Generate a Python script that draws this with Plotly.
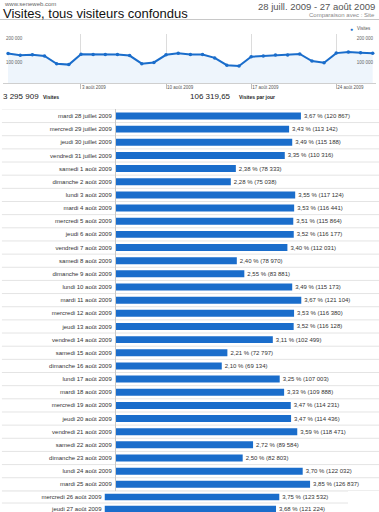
import plotly.graph_objects as go
import pandas as pd

# ---------------- data ----------------
day_labels = [
    "mardi 28 juillet 2009", "mercredi 29 juillet 2009", "jeudi 30 juillet 2009",
    "vendredi 31 juillet 2009", "samedi 1 août 2009", "dimanche 2 août 2009",
    "lundi 3 août 2009", "mardi 4 août 2009", "mercredi 5 août 2009",
    "jeudi 6 août 2009", "vendredi 7 août 2009", "samedi 8 août 2009",
    "dimanche 9 août 2009", "lundi 10 août 2009", "mardi 11 août 2009",
    "mercredi 12 août 2009", "jeudi 13 août 2009", "vendredi 14 août 2009",
    "samedi 15 août 2009", "dimanche 16 août 2009", "lundi 17 août 2009",
    "mardi 18 août 2009", "mercredi 19 août 2009", "jeudi 20 août 2009",
    "vendredi 21 août 2009", "samedi 22 août 2009", "dimanche 23 août 2009",
    "lundi 24 août 2009", "mardi 25 août 2009", "mercredi 26 août 2009",
    "jeudi 27 août 2009",
]
visits = [
    120867, 113142, 115188, 110316, 78333, 75038,
    117124, 116441, 115864, 116177, 112031, 78970,
    83881, 115173, 121104, 116380, 116128, 102499,
    72797, 69134, 107003, 109888, 114231, 114436,
    118471, 89584, 82803, 122032, 126837, 123532,
    121224,
]
percents = [
    "3,67", "3,43", "3,49", "3,35", "2,38", "2,28",
    "3,55", "3,53", "3,51", "3,52", "3,40", "2,40",
    "2,55", "3,49", "3,67", "3,53", "3,52", "3,11",
    "2,21", "2,10", "3,25", "3,33", "3,47", "3,47",
    "3,59", "2,72", "2,50", "3,70", "3,85", "3,75",
    "3,68",
]
dates = pd.date_range("2009-07-28", "2009-08-27", freq="D")
line_tick_dates = ["2009-08-03", "2009-08-10", "2009-08-17", "2009-08-24"]
line_tick_text = ["3 août 2009", "10 août 2009", "17 août 2009", "24 août 2009"]
y_tick_vals = [100000, 200000]
y_tick_text = ["100 000", "200 000"]
total_visits = "3 295 909"
visits_per_day = "106 319,65"

# ---------------- helpers ----------------
W, H = 379, 512
BLUE = "#1a6dcb"
FONT = "Liberation Sans, Arial, sans-serif"


def px_x(p):
    return p / W


def px_y(p):
    return 1 - p / H


def fmt(v):
    return f"{v:,}".replace(",", " ")


bar_text = [f"{p} % ({fmt(v)})" for p, v in zip(percents, visits)]
n_main = 29  # rows in the first block, the last two are in a shifted block

fig = go.Figure()

# line chart
fig.add_trace(go.Scatter(
    x=dates, y=visits, mode="lines+markers",
    line=dict(color=BLUE, width=2), marker=dict(color=BLUE, size=3.5),
    fill="tozeroy", fillcolor="#eef5fc", name="Visites",
    showlegend=False, xaxis="x", yaxis="y", hoverinfo="skip"))
fig.add_trace(go.Scatter(
    x=dates, y=visits, mode="lines", line=dict(width=0, color="rgba(0,0,0,0)"),
    showlegend=False, xaxis="x", yaxis="y2", hoverinfo="skip"))

# bar chart, main block
fig.add_trace(go.Bar(
    y=day_labels[:n_main], x=visits[:n_main], orientation="h",
    marker=dict(color=BLUE, line=dict(width=0)),
    text=bar_text[:n_main], textposition="outside", cliponaxis=False,
    constraintext="none",
    textfont=dict(size=6, color="#333", family=FONT),
    xaxis="x3", yaxis="y3", showlegend=False, hoverinfo="skip"))
# bar chart, last two rows
fig.add_trace(go.Bar(
    y=day_labels[n_main:], x=visits[n_main:], orientation="h",
    marker=dict(color=BLUE, line=dict(width=0)),
    text=bar_text[n_main:], textposition="outside", cliponaxis=False,
    constraintext="none",
    textfont=dict(size=6, color="#333", family=FONT),
    xaxis="x4", yaxis="y4", showlegend=False, hoverinfo="skip"))

shapes = []
# header separator
shapes.append(dict(type="line", xref="paper", yref="paper", x0=0, x1=1,
                   y0=px_y(19.5), y1=px_y(19.5), line=dict(color="#c8c8c8", width=1)))
# row separators
for i in range(-1, n_main):
    shapes.append(dict(type="line", xref="paper", yref="y3", x0=0.005, x1=1,
                       y0=i + 0.5, y1=i + 0.5, line=dict(color="#e4e4e4", width=1),
                       layer="below"))
for i in range(-1, len(day_labels) - n_main):
    shapes.append(dict(type="line", xref="paper", yref="y4", x0=0.005, x1=px_x(348),
                       y0=i + 0.5, y1=i + 0.5, line=dict(color="#e4e4e4", width=1),
                       layer="below"))

ann = []


def text(x, y, s, size, color, xanchor="left", bold=False):
    ann.append(dict(xref="paper", yref="paper", x=px_x(x), y=px_y(y),
                    text=f"<b>{s}</b>" if bold else s, showarrow=False,
                    xanchor=xanchor, yanchor="middle", borderpad=0,
                    font=dict(size=size, color=color, family=FONT)))


text(3, 3.8, "www.seneweb.com", 6, "#666")
text(2, 13.6, "Visites, tous visiteurs confondus", 13, "#111")
text(376, 6.5, "28 juill. 2009 - 27 août 2009", 9.5, "#555", xanchor="right")
text(376, 15, "Comparaison avec : Site", 6, "#888", xanchor="right")
text(349, 28.5, f"<span style='color:{BLUE}'>●</span>", 5, BLUE)
text(356, 28.7, "Visites", 4.5, "#555")
text(2, 96, total_visits, 8, "#222")
text(42, 96.5, "Visites", 5, "#222", bold=True)
text(189, 96, visits_per_day, 8, "#222")
text(238, 96.5, "Visites par jour", 5, "#222", bold=True)

fig.update_layout(
    width=W, height=H, margin=dict(l=0, r=0, t=0, b=0),
    paper_bgcolor="white", plot_bgcolor="white",
    font=dict(family=FONT, color="#333"),
    bargap=0.47, showlegend=False,
    shapes=shapes, annotations=ann,
    xaxis=dict(domain=[px_x(3), px_x(376)], anchor="y", type="date",
               range=["2009-07-27 14:00", "2009-08-27 06:30"],
               tickvals=line_tick_dates, ticktext=line_tick_text,
               showgrid=True, gridcolor="#dcdcdc", gridwidth=1,
               ticks="outside", ticklen=5, tickcolor="#bdbdbd",
               ticklabelposition="outside right",
               tickfont=dict(size=4.5, color="#555"),
               showline=True, linecolor="#cfcfcf", zeroline=False),
    yaxis=dict(domain=[px_y(83), px_y(34)], anchor="x", range=[0, 200000],
               tickvals=y_tick_vals, ticktext=y_tick_text,
               ticklabelposition="inside", ticklabelshift=4,
               tickfont=dict(size=4.5, color="#666"),
               showgrid=False, zeroline=False, ticks=""),
    yaxis2=dict(overlaying="y", side="right", anchor="x", range=[0, 200000],
                tickvals=y_tick_vals, ticktext=y_tick_text,
                ticklabelposition="inside", ticklabelshift=4,
                tickfont=dict(size=4.5, color="#666"),
                showgrid=False, zeroline=False, ticks=""),
    xaxis3=dict(domain=[px_x(116), 1], anchor="y3", range=[0, 171900],
                showticklabels=False, showgrid=False, zeroline=False, ticks=""),
    yaxis3=dict(domain=[px_y(490.9), px_y(109.4)], anchor="x3",
                range=[n_main - 0.5, -0.5], type="category",
                showline=True, linecolor="#c8c8c8", ticks="",
                showgrid=False, tickfont=dict(size=6, color="#333"),
                ticklabelstandoff=2),
    xaxis4=dict(domain=[px_x(104.5), px_x(348)], anchor="y4", range=[0, 172100],
                showticklabels=False, showgrid=False, zeroline=False, ticks=""),
    yaxis4=dict(domain=[0, px_y(491)], anchor="x4",
                range=[1.25, -0.5], type="category",
                showline=False, ticks="",
                showgrid=False, tickfont=dict(size=6, color="#333"),
                ticklabelstandoff=2),
)

fig.write_html(
    "out.html",
    config={"displayModeBar": False},
    post_script="document.body.style.margin='0';document.body.style.overflow='hidden';",
)
